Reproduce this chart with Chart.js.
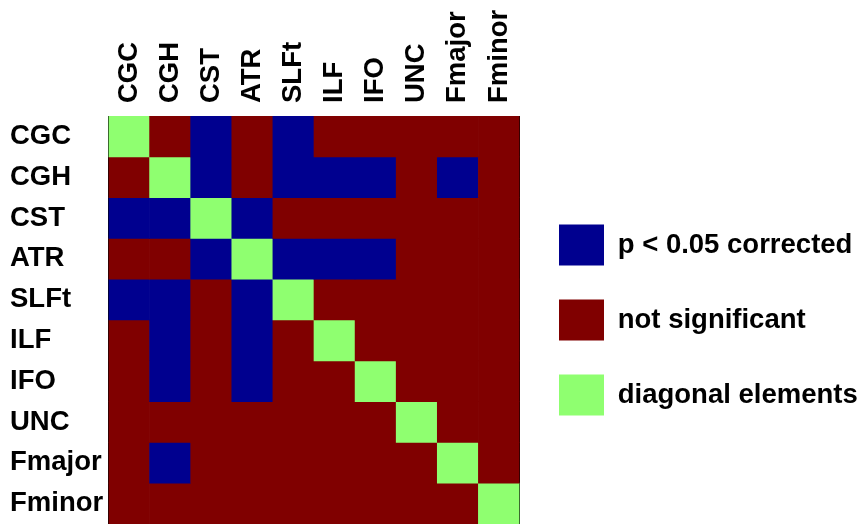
<!DOCTYPE html>
<html>
<head>
<meta charset="utf-8">
<script src="https://cdn.jsdelivr.net/npm/chart.js@4/dist/chart.umd.min.js"></script>
<style>
  html, body { margin: 0; padding: 0; background: #ffffff; }
  #wrap { width: 866px; height: 524px; }
</style>
</head>
<body>
<div id="wrap"><canvas id="c" width="866" height="524"></canvas></div>
<script>
// White-matter tracts, used for both rows and columns of the matrix
const tracts = ['CGC', 'CGH', 'CST', 'ATR', 'SLFt', 'ILF', 'IFO', 'UNC', 'Fmajor', 'Fminor'];

// Pairwise result codes per row: 0 = not significant, 1 = p < 0.05 corrected, 2 = diagonal
const rowCGC    = [2, 0, 1, 0, 1, 0, 0, 0, 0, 0];
const rowCGH    = [0, 2, 1, 0, 1, 1, 1, 0, 1, 0];
const rowCST    = [1, 1, 2, 1, 0, 0, 0, 0, 0, 0];
const rowATR    = [0, 0, 1, 2, 1, 1, 1, 0, 0, 0];
const rowSLFt   = [1, 1, 0, 1, 2, 0, 0, 0, 0, 0];
const rowILF    = [0, 1, 0, 1, 0, 2, 0, 0, 0, 0];
const rowIFO    = [0, 1, 0, 1, 0, 0, 2, 0, 0, 0];
const rowUNC    = [0, 0, 0, 0, 0, 0, 0, 2, 0, 0];
const rowFmajor = [0, 1, 0, 0, 0, 0, 0, 0, 2, 0];
const rowFminor = [0, 0, 0, 0, 0, 0, 0, 0, 0, 2];
const matrixRows = [rowCGC, rowCGH, rowCST, rowATR, rowSLFt, rowILF, rowIFO, rowUNC, rowFmajor, rowFminor];

// Legend entries, indexed by result code
const stateLabels = ['not significant', 'p < 0.05 corrected', 'diagonal elements'];
const legendOrder = [1, 0, 2];

// Colours (jet-like map)
const stateColors = ['#800000', '#00008f', '#8fff70'];

Chart.defaults.font.family = '"Liberation Sans", Arial, Helvetica, sans-serif';
Chart.defaults.color = '#000000';

// One floating-bar dataset per matrix row; each bar spans one cell
const datasets = matrixRows.map((row, r) => ({
  label: tracts[r],
  data: row.map(() => [r + 0.5, r + 1.5]),
  backgroundColor: row.map(v => stateColors[v]),
  borderWidth: 0,
  barPercentage: 1,
  categoryPercentage: 1,
  grouped: false,
  xAxisID: 'x',
  yAxisID: 'y'
}));

const rowTicks = s => { s.ticks = tracts.map((_, i) => ({ value: i + 1 })); };
const evenTickColor = c => (c.index % 2 === 1 ? '#000000' : 'rgba(0,0,0,0)');
const boldFont = size => ({ size: size, weight: 'bold' });
// Fixed axis thickness, no extra room for overhanging labels
const fixSize = (prop, value) => s => {
  s[prop] = value;
  s.paddingTop = 0; s.paddingBottom = 0; s.paddingLeft = 0; s.paddingRight = 0;
};
const labelSize = 27.5;

new Chart(document.getElementById('c'), {
  type: 'bar',
  data: { labels: tracts, datasets: datasets },
  options: {
    responsive: false,
    animation: false,
    devicePixelRatio: 1,
    layout: { padding: { left: 10, top: 0, right: 0, bottom: -3 } },
    plugins: {
      tooltip: { enabled: false },
      legend: {
        position: 'right',
        fullSize: false,
        align: 'center',
        maxWidth: 341,
        onClick: null,
        labels: {
          boxWidth: 45,
          boxHeight: 41,
          padding: 34,
          color: '#000000',
          font: boldFont(27.5),
          generateLabels: () => legendOrder.map(i => ({
            text: stateLabels[i],
            fillStyle: stateColors[i],
            strokeStyle: stateColors[i],
            lineWidth: 0,
            hidden: false
          }))
        }
      }
    },
    scales: {
      x: {
        type: 'category',
        position: 'top',
        offset: true,
        grid: { offset: false, drawOnChartArea: false, tickLength: -4, tickColor: evenTickColor, tickWidth: 1 },
        border: { display: true, color: '#000000', width: 1 },
        ticks: {
          autoSkip: false, minRotation: 90, maxRotation: 90, padding: 17,
          labelOffset: labelSize * 1.2, color: '#000000', font: boldFont(labelSize)
        },
        afterFit: fixSize('height', 116)
      },
      x2: {
        type: 'category',
        position: 'bottom',
        offset: true,
        grid: { offset: false, drawOnChartArea: false, tickLength: -4, tickColor: evenTickColor, tickWidth: 1 },
        border: { display: true, color: '#000000', width: 1 },
        ticks: { display: false },
        afterFit: fixSize('height', 0)
      },
      y: {
        type: 'linear',
        position: 'left',
        reverse: true,
        min: 0.5,
        max: 10.5,
        afterBuildTicks: rowTicks,
        grid: { drawOnChartArea: false, tickLength: -4, tickColor: '#000000', tickWidth: 1 },
        border: { display: true, color: '#000000', width: 1 },
        ticks: { crossAlign: 'far', padding: 0, color: '#000000', font: boldFont(labelSize), callback: v => tracts[v - 1] },
        afterFit: fixSize('width', 98.5)
      },
      y2: {
        type: 'linear',
        position: 'right',
        reverse: true,
        min: 0.5,
        max: 10.5,
        afterBuildTicks: rowTicks,
        grid: { drawOnChartArea: false, tickLength: -4, tickColor: '#000000', tickWidth: 1 },
        border: { display: true, color: '#000000', width: 1 },
        ticks: { display: false },
        afterFit: fixSize('width', 5.5)
      }
    }
  }
});
</script>
</body>
</html>
